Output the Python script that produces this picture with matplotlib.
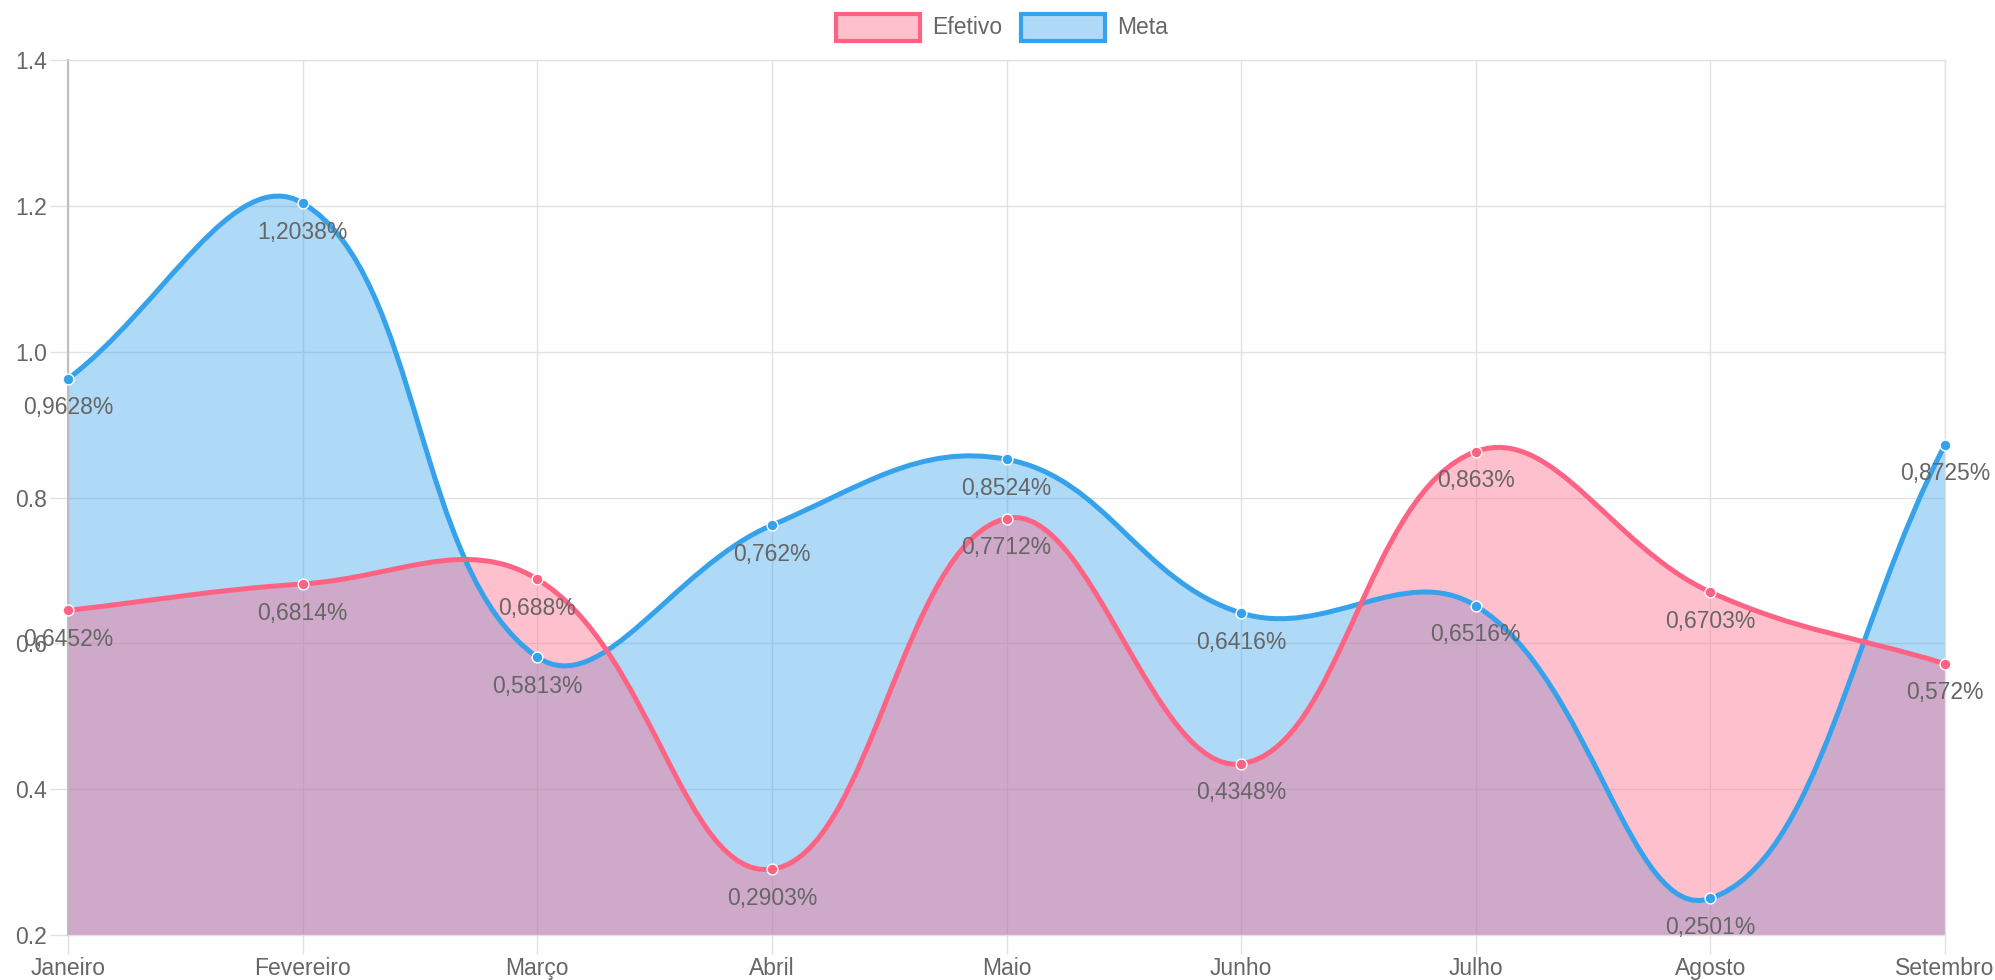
import matplotlib
matplotlib.use('Agg')
import matplotlib.pyplot as plt
import numpy as np
from matplotlib.path import Path
from matplotlib.patches import PathPatch, Rectangle

months = ["Janeiro", "Fevereiro", "Março", "Abril", "Maio", "Junho", "Julho", "Agosto", "Setembro"]
efetivo = [0.6452, 0.6814, 0.688, 0.2903, 0.7712, 0.4348, 0.863, 0.6703, 0.572]
meta = [0.9628, 1.2038, 0.5813, 0.762, 0.8524, 0.6416, 0.6516, 0.2501, 0.8725]
yticks = [0.2, 0.4, 0.6, 0.8, 1.0, 1.2, 1.4]

plt.rcParams['font.family'] = ['Liberation Sans', 'DejaVu Sans']

PINK = (255/255, 99/255, 132/255)
BLUE = (54/255, 162/255, 235/255)
TXT = '#666666'
GRID = '#e2e2e2'
FS = 16.5

W, H = 1995, 980
fig = plt.figure(figsize=(W/100, H/100), dpi=100)
L, R, T, B = 68, 1945, 60, 935
ax = fig.add_axes([L/W, 1-B/H, (R-L)/W, (B-T)/H])
ax.set_xlim(0, len(months)-1)
ax.set_ylim(yticks[0], yticks[-1])

def spline_paths(vals, tension=0.4):
    xs = np.arange(len(vals))
    pts = ax.transData.transform(np.column_stack([xs, vals]))
    n = len(pts)
    cpp, cpn = [], []
    for i in range(n):
        cur = pts[i]
        prev = pts[i-1] if i > 0 else cur
        nxt = pts[i+1] if i < n-1 else cur
        d01 = np.hypot(*(cur-prev)); d12 = np.hypot(*(nxt-cur))
        tot = d01 + d12
        s01 = d01/tot if tot else 0
        s12 = d12/tot if tot else 0
        cpp.append(cur - tension*s01*(nxt-prev))
        cpn.append(cur + tension*s12*(nxt-prev))
    inv = ax.transData.inverted()
    verts = [pts[0]]
    codes = [Path.MOVETO]
    for i in range(n-1):
        verts += [cpn[i], cpp[i+1], pts[i+1]]
        codes += [Path.CURVE4]*3
    verts = inv.transform(np.array(verts))
    line = Path(verts, codes)
    fverts = np.vstack([verts, [[xs[-1], yticks[0]], [xs[0], yticks[0]], [xs[0], yticks[0]]]])
    fcodes = codes + [Path.LINETO, Path.LINETO, Path.CLOSEPOLY]
    fill = Path(fverts, fcodes)
    return line, fill

series = [(meta, BLUE), (efetivo, PINK)]
paths = [spline_paths(v) for v, c in series]
for (v, c), (lp, fp) in zip(series, paths):
    ax.add_patch(PathPatch(fp, facecolor=c + (0.4,), edgecolor='none', zorder=2))
for (v, c), (lp, fp) in zip(series, paths):
    ax.add_patch(PathPatch(lp, facecolor='none', edgecolor=c, lw=3.6, zorder=3, capstyle='round', joinstyle='round'))
for v, c in series:
    ax.plot(range(len(v)), v, 'o', ms=7.8, mfc=c, mec='white', mew=1.0, zorder=4, clip_on=False)
    for i, val in enumerate(v):
        ax.annotate(str(val).replace('.', ',') + '%', (i, val), xytext=(0, -21), textcoords='offset points',
                    ha='center', va='center', fontsize=FS, color=TXT, zorder=5, annotation_clip=False)

ax.set_xticks(range(len(months)))
ax.set_xticklabels(months)
ax.set_yticks(yticks)
ax.set_yticklabels([f"{t:.1f}" for t in yticks])
ax.tick_params(axis='both', colors=GRID, labelcolor=TXT, labelsize=FS, width=1)
ax.tick_params(axis='y', length=13, pad=2)
ax.tick_params(axis='x', length=14, pad=2)
ax.grid(True, color=GRID, lw=1, zorder=0)
ax.set_axisbelow(True)
for s in ['top', 'right', 'bottom']:
    ax.spines[s].set_color(GRID)
    ax.spines[s].set_linewidth(1)
ax.spines['left'].set_color('#bdbdbd')
ax.spines['left'].set_linewidth(1.5)

# legend
def leg_item(x0, label, c):
    fig.add_artist(Rectangle((x0/W, 1-41/H), 84/W, 27/H, transform=fig.transFigure,
                             facecolor=c + (0.4,), edgecolor=c, lw=3))
    fig.text((x0+96)/W, 1-27/H, label, ha='left', va='center', fontsize=FS, color=TXT)

leg_item(836, "Efetivo", PINK)
leg_item(1021, "Meta", BLUE)

fig.savefig('out.png', dpi=100)
